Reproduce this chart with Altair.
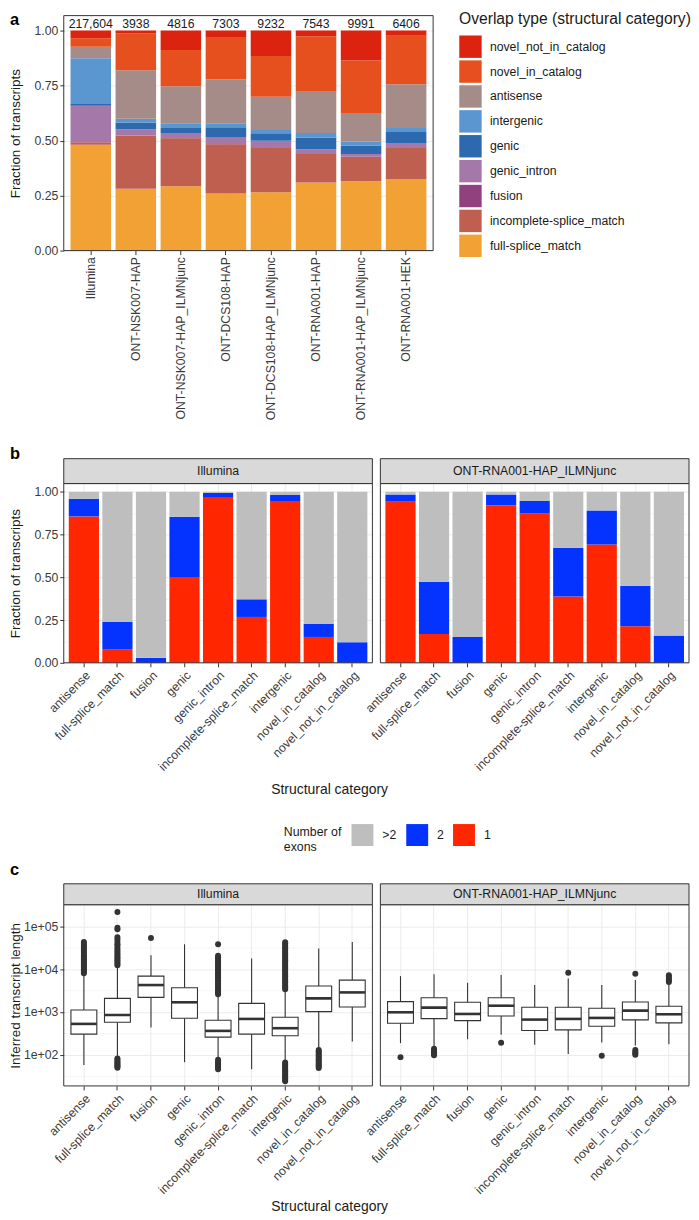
import altair as alt
import pandas as pd

FONT = "Liberation Sans"
INK = "#333333"
GRID = "#ebebeb"
TXT = "#1a1a1a"
LAB = "#3a3a3a"

# ---------------- panel a data ----------------
samples = ["Illumina", "ONT-NSK007-HAP", "ONT-NSK007-HAP_ILMNjunc", "ONT-DCS108-HAP",
           "ONT-DCS108-HAP_ILMNjunc", "ONT-RNA001-HAP", "ONT-RNA001-HAP_ILMNjunc",
           "ONT-RNA001-HEK"]
sample_counts = ["217,604", "3938", "4816", "7303", "9232", "7543", "9991", "6406"]

full_splice_a = [0.481, 0.281, 0.293, 0.259, 0.265, 0.309, 0.315, 0.325]
incomplete_a = [0.011, 0.241, 0.218, 0.224, 0.205, 0.134, 0.110, 0.145]
fusion_a = [0.001, 0.001, 0.001, 0.001, 0.001, 0.001, 0.001, 0.001]
genic_intron_a = [0.165, 0.029, 0.022, 0.032, 0.028, 0.017, 0.013, 0.018]
genic_a = [0.008, 0.030, 0.023, 0.045, 0.034, 0.053, 0.039, 0.050]
intergenic_a = [0.208, 0.017, 0.022, 0.018, 0.015, 0.020, 0.018, 0.018]
antisense_a = [0.053, 0.221, 0.168, 0.200, 0.151, 0.188, 0.129, 0.199]
nic_a = [0.038, 0.168, 0.165, 0.192, 0.185, 0.252, 0.239, 0.221]
nnc_a = [0.035, 0.012, 0.088, 0.029, 0.116, 0.026, 0.136, 0.023]

stack_order = ["full-splice_match", "incomplete-splice_match", "fusion", "genic_intron",
               "genic", "intergenic", "antisense", "novel_in_catalog", "novel_not_in_catalog"]
stack_values = [full_splice_a, incomplete_a, fusion_a, genic_intron_a, genic_a,
                intergenic_a, antisense_a, nic_a, nnc_a]
legend_order = ["novel_not_in_catalog", "novel_in_catalog", "antisense", "intergenic", "genic",
                "genic_intron", "fusion", "incomplete-splice_match", "full-splice_match"]
legend_colors = ["#dc230f", "#e6501e", "#a68c88", "#5a96d0", "#2d69af",
                 "#a578aa", "#91417d", "#be5f50", "#f2a234"]

# ---------------- panel b data ----------------
cats = ["antisense", "full-splice_match", "fusion", "genic", "genic_intron",
        "incomplete-splice_match", "intergenic", "novel_in_catalog", "novel_not_in_catalog"]
ilmn_ex1 = [0.856, 0.080, 0.000, 0.501, 0.969, 0.268, 0.946, 0.151, 0.000]
ilmn_ex2 = [0.103, 0.159, 0.029, 0.353, 0.025, 0.103, 0.035, 0.076, 0.120]
ilmn_ex3 = [0.041, 0.761, 0.971, 0.146, 0.006, 0.629, 0.019, 0.773, 0.880]
ont_ex1 = [0.942, 0.169, 0.000, 0.920, 0.874, 0.388, 0.691, 0.214, 0.000]
ont_ex2 = [0.042, 0.305, 0.151, 0.064, 0.072, 0.284, 0.200, 0.236, 0.159]
ont_ex3 = [0.016, 0.526, 0.849, 0.016, 0.054, 0.328, 0.109, 0.550, 0.841]
exon_levels = [">2", "2", "1"]
exon_colors = ["#bebebe", "#0433ff", "#ff2600"]

# ---------------- panel c data ----------------
ilmn_lo = [58, 92, 432, 67, 80, 46, 75, 140, 204]
ilmn_q1 = [303, 575, 2190, 713, 258, 303, 277, 1019, 1306]
ilmn_med = [526, 851, 4250, 1680, 361, 687, 417, 2080, 2860]
ilmn_q3 = [1114, 2080, 6870, 3680, 640, 1590, 751, 4030, 5550]
ilmn_hi = [7700, 12000, 21200, 38100, 2400, 17700, 3300, 30300, 43300]
ilmn_out = {
    "antisense": [8000, 8600, 9300, 10000, 10800, 11600, 12500, 13500, 14600, 15800,
                  17000, 18500, 20000, 22000, 24000, 26500, 29000, 32000, 35500, 39000, 43000],
    "full-splice_match": [215000, 93000, 85000, 56000, 50000, 43000, 38000, 35000, 31000,
                          28000, 25500, 23000, 21000, 19000, 17500, 16000, 14600, 13400, 12400,
                          82, 76, 70, 65, 61, 57, 53, 50],
    "fusion": [53600],
    "genic_intron": [2600, 2800, 3050, 3300, 3600, 3900, 4250, 4600, 5000, 5450, 5900, 6400,
                     7000, 7600, 8300, 9000, 9800, 10600, 11500, 12500, 13600, 14800, 16100,
                     17500, 19000, 20500, 38000, 76, 70, 64, 59, 54, 50, 46],
    "intergenic": [3400, 3700, 4000, 4400, 4800, 5200, 5700, 6200, 6800, 7400, 8100, 8800,
                   9600, 10500, 11400, 12500, 13600, 14800, 16200, 17600, 19200, 21000, 23000,
                   25000, 27300, 29800, 32500, 35500, 39000, 42500,
                   66, 61, 56, 52, 48, 44, 41, 38, 35, 32, 30, 28, 26, 24],
    "novel_in_catalog": [130, 120, 110, 101, 93, 86, 79, 73, 67, 62, 57, 53, 49],
}
ont_lo = [187, 145, 231, 292, 171, 104, 194, 165, 177]
ont_q1 = [545, 700, 628, 807, 368, 381, 464, 652, 555]
ont_med = [982, 1262, 898, 1400, 663, 687, 725, 1074, 883]
ont_q3 = [1740, 2155, 1680, 2155, 1285, 1285, 1216, 1710, 1355]
ont_hi = [6870, 7650, 4810, 7250, 4250, 6070, 4250, 5540, 4600]
ont_out = {
    "antisense": [88],
    "full-splice_match": [138, 125, 115, 105, 97],
    "genic": [190],
    "incomplete-splice_match": [8220],
    "intergenic": [95],
    "novel_in_catalog": [7780, 130, 118, 108, 100],
    "novel_not_in_catalog": [5000, 5500, 6000, 6600, 7200],
}

frac_ticks = [0, 0.125, 0.25, 0.375, 0.5, 0.625, 0.75, 0.875, 1.0]
len_ticks = [31.6228, 100, 316.228, 1000, 3162.28, 10000, 31622.8, 100000]

# ---------------- layout constants ----------------
W_A, H_A = 371, 236
W_B, H_B = 310, 180
W_C, H_C = 310, 182
LEFT = -54


def frac_axis(show):
    major = "datum.value * 4 % 1 == 0"
    common = dict(values=frac_ticks, grid=True,
                  gridWidth={"condition": {"test": major, "value": 1.0}, "value": 0.5})
    if show:
        return alt.Axis(labelExpr=f"{major} ? format(datum.value, '.2f') : ''",
                        tickOpacity={"condition": {"test": major, "value": 1}, "value": 0},
                        minExtent=32, maxExtent=32, titlePadding=9, **common)
    return alt.Axis(labels=False, ticks=False, minExtent=0, maxExtent=0, **common)


def len_axis(show):
    major = "abs(log(datum.value)/LN10 - round(log(datum.value)/LN10)) < 0.01"
    common = dict(values=len_ticks, grid=True,
                  gridWidth={"condition": {"test": major, "value": 1.0}, "value": 0.5})
    if show:
        return alt.Axis(labelExpr=f"({major}) ? '1e+0' + round(log(datum.value)/LN10) : ''",
                        tickOpacity={"condition": {"test": major, "value": 1}, "value": 0},
                        minExtent=40, maxExtent=40, titlePadding=1, **common)
    return alt.Axis(labels=False, ticks=False, minExtent=0, maxExtent=0, **common)


def cat_x():
    return alt.X("cat:N", sort=cats, title=None,
                 scale=alt.Scale(paddingInner=0.1, paddingOuter=0.15),
                 axis=alt.Axis(labelAngle=-45, labelAlign="right", labelBaseline="top",
                               bandPosition=0.5, grid=True, gridWidth=1.0,
                               labelOverlap=False, labelLimit=400))


def one(**kw):
    return pd.DataFrame({k: [v] for k, v in kw.items()})


def border(w, h):
    return alt.Chart(one(t="")).mark_rect(fillOpacity=0, stroke=INK, strokeWidth=1).encode(
        x=alt.value(0), x2=alt.value(w), y=alt.value(0), y2=alt.value(h))


def strip(label, w, h):
    d = one(label=label)
    bg = alt.Chart(d).mark_rect(fill="#d9d9d9", stroke=INK, strokeWidth=1).encode(
        x=alt.value(0), x2=alt.value(w), y=alt.value(-h), y2=alt.value(0))
    tx = alt.Chart(d).mark_text(fontSize=12.3, color=TXT, baseline="middle").encode(
        x=alt.value(w / 2), y=alt.value(-h / 2), text="label:N")
    return [bg, tx]


def letter(t, y):
    return alt.Chart(one(t=t)).mark_text(fontSize=16.5, fontWeight="bold", align="left",
                                         baseline="alphabetic", color="black").encode(
        x=alt.value(LEFT), y=alt.value(y), text="t:N")


def marker(y0, y1):
    return alt.Chart(one(t="")).mark_rule(opacity=0).encode(
        x=alt.value(LEFT), y=alt.value(y0), y2=alt.value(y1))


def xtitle(y):
    return alt.Chart(one(t="Structural category")).mark_text(
        fontSize=14, color=TXT, align="center", baseline="alphabetic").encode(
        x=alt.value(267), y=alt.value(y), text="t:N")


# ---------------- panel a ----------------
rows = []
for k, (cat, vals) in enumerate(zip(stack_order, stack_values)):
    for s, v in zip(samples, vals):
        rows.append(dict(sample=s, cat=cat, frac=v, k=k))
dfA = pd.DataFrame(rows)
dfCounts = pd.DataFrame({"sample": samples, "count": sample_counts})

xA = alt.X("sample:N", sort=samples, title=None,
           scale=alt.Scale(paddingInner=0.1, paddingOuter=0.15),
           axis=alt.Axis(labelAngle=-90, labelAlign="right", labelBaseline="middle",
                         bandPosition=0.5, grid=True, gridWidth=1.0,
                         labelOverlap=False, labelLimit=400))

barsA = alt.Chart(dfA).mark_bar().encode(
    x=xA,
    y=alt.Y("frac:Q", stack="zero", title="Fraction of transcripts",
            scale=alt.Scale(domain=[0, 1.068], nice=False), axis=frac_axis(True)),
    color=alt.Color("cat:N",
                    scale=alt.Scale(domain=legend_order, range=legend_colors),
                    legend=alt.Legend(orient="none", legendX=397, legendY=-4,
                                      title="Overlap type (structural category)",
                                      titleFontSize=15.7, titleFontWeight="normal",
                                      titleColor=TXT, titleLimit=500, titlePadding=8,
                                      labelFontSize=12.3, labelColor=TXT, labelLimit=400,
                                      labelOffset=8, symbolType="square", symbolSize=506,
                                      symbolStrokeWidth=0, symbolOpacity=1, rowPadding=2)),
    order=alt.Order("k:Q", sort="ascending"),
)
countsA = alt.Chart(dfCounts).mark_text(fontSize=12.3, color=TXT, baseline="alphabetic",
                                        dy=-3).encode(
    x=alt.X("sample:N", sort=samples), y=alt.datum(1.0), text="count:N")

rowA = alt.layer(barsA, countsA, border(W_A, H_A), letter("a", 9),
                 marker(-4, 428)).properties(width=W_A, height=H_A)


# ---------------- panel b ----------------
def exon_panel(ex1, ex2, ex3, label, left):
    rws = []
    for cat, a, b, c in zip(cats, ex1, ex2, ex3):
        rws += [dict(cat=cat, n="1", frac=a, k=0), dict(cat=cat, n="2", frac=b, k=1),
                dict(cat=cat, n=">2", frac=c, k=2)]
    df = pd.DataFrame(rws)
    if left:
        leg = alt.Legend(orient="none", legendX=289, legendY=342, direction="horizontal",
                         title=None, labelFontSize=12.3, labelColor=TXT, labelOffset=9,
                         columnPadding=9, symbolType="square", symbolSize=484,
                         symbolStrokeWidth=0, symbolOpacity=1)
        col = alt.Color("n:N", scale=alt.Scale(domain=exon_levels, range=exon_colors), legend=leg)
    else:
        col = alt.Color("n:N", scale=alt.Scale(domain=exon_levels, range=exon_colors), legend=None)
    bars = alt.Chart(df).mark_bar().encode(
        x=cat_x(),
        y=alt.Y("frac:Q", stack="zero", title="Fraction of transcripts" if left else None,
                scale=alt.Scale(domain=[0, 1.048], nice=False), axis=frac_axis(left)),
        color=col,
        order=alt.Order("k:Q", sort="ascending"),
    )
    layers = [bars, border(W_B, H_B)] + strip(label, W_B, 25)
    if left:
        legtitle = alt.Chart(one(t="Number of\nexons")).mark_text(
            fontSize=12.4, color=TXT, align="left", baseline="alphabetic",
            lineBreak="\n", lineHeight=15).encode(
            x=alt.value(221), y=alt.value(354), text="t:N")
        layers += [letter("b", -25), xtitle(312), legtitle, marker(-40, 378)]
    return alt.layer(*layers).properties(width=W_B, height=H_B)


rowB = alt.hconcat(exon_panel(ilmn_ex1, ilmn_ex2, ilmn_ex3, "Illumina", True),
                   exon_panel(ont_ex1, ont_ex2, ont_ex3, "ONT-RNA001-HAP_ILMNjunc", False),
                   spacing=8, bounds="flush").resolve_scale(color="independent")


# ---------------- panel c ----------------
def box_panel(lo, q1, med, q3, hi, outs, label, left):
    st = pd.DataFrame({"cat": cats, "lo": lo, "q1": q1, "med": med, "q3": q3, "hi": hi})
    orows = []
    for cat in cats:
        for v in outs.get(cat, []):
            orows.append(dict(cat=cat, val=v))
    od = pd.DataFrame(orows)
    ysc = alt.Scale(type="log", domain=[18.7, 320000], nice=False)
    ttl = "Inferred transcript length" if left else None

    def Y(f):
        return alt.Y(f, scale=ysc, axis=len_axis(left), title=ttl)

    x = cat_x()
    w_lo = alt.Chart(st).mark_rule(color=INK, strokeWidth=1.1).encode(x=x, y=Y("lo:Q"), y2="q1:Q")
    w_hi = alt.Chart(st).mark_rule(color=INK, strokeWidth=1.1).encode(x=x, y=Y("q3:Q"), y2="hi:Q")
    box = alt.Chart(st).mark_bar(width=26, fill="white", stroke=INK, strokeWidth=1.1).encode(
        x=x, y=Y("q1:Q"), y2="q3:Q")
    md = alt.Chart(st).mark_tick(size=26, thickness=2.6, color=INK, opacity=1).encode(
        x=x, y=Y("med:Q"))
    pts = alt.Chart(od).mark_circle(size=36, color=INK, opacity=1).encode(x=x, y=Y("val:Q"))
    layers = [w_lo, w_hi, box, md, pts, border(W_C, H_C)] + strip(label, W_C, 21)
    if left:
        layers += [letter("c", -30), xtitle(308), marker(-43, 311)]
    return alt.layer(*layers).properties(width=W_C, height=H_C)


rowC = alt.hconcat(
    box_panel(ilmn_lo, ilmn_q1, ilmn_med, ilmn_q3, ilmn_hi, ilmn_out, "Illumina", True),
    box_panel(ont_lo, ont_q1, ont_med, ont_q3, ont_hi, ont_out, "ONT-RNA001-HAP_ILMNjunc", False),
    spacing=8, bounds="flush")

chart = (
    alt.vconcat(rowA, rowB, rowC, spacing=0)
    .properties(padding=0)
    .configure(font=FONT)
    .configure_view(stroke="transparent")
    .configure_axis(domain=False, tickColor=INK, tickSize=4, tickWidth=1,
                    labelFont=FONT, labelFontSize=12.3, labelColor=LAB, labelPadding=2,
                    titleFont=FONT, titleFontSize=13.5, titleFontWeight="normal",
                    titleColor=TXT, gridColor=GRID)
    .configure_legend(labelFont=FONT, titleFont=FONT, padding=0)
)

chart.save("out.html", embed_options={"renderer": "svg", "actions": False})
